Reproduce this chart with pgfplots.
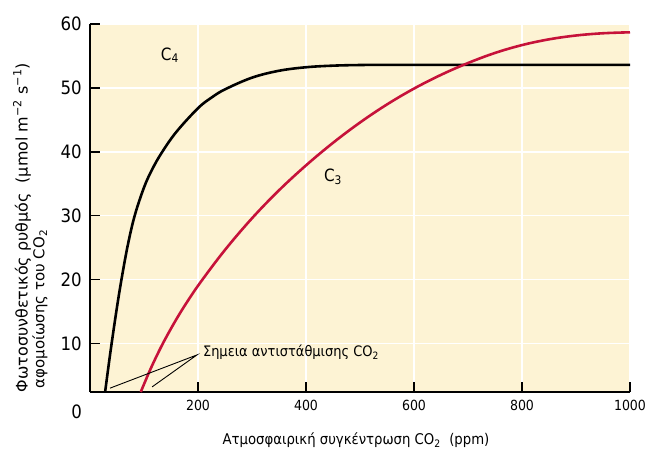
\documentclass[border=0pt]{standalone}
\usepackage{fontspec}
\setmainfont{DejaVu Sans Condensed}
\newfontfamily\widefont{DejaVu Sans}
\usepackage{pgfplots}
\pgfplotsset{compat=1.18}
\definecolor{cream}{RGB}{253,243,212}
\definecolor{cthree}{RGB}{198,18,58}
\begin{document}
\begin{tikzpicture}
\useasboundingbox (-90bp,-58bp) rectangle (555bp,392bp);
\begin{axis}[
 at={(0,0)}, anchor=south west,
 scale only axis, width=540bp, height=368bp,
 xmin=0, xmax=1000, ymin=2.4, ymax=60,
 axis x line=bottom, axis y line=left,
 axis line style={-, line width=1.5pt},
 axis background/.style={fill=cream},
 xtick={200,400,...,1000}, ytick={10,20,...,60},
 grid=major, major grid style={white, line width=1.5pt},
 tick align=inside, major tick length=10bp,
 tick style={black, line width=1.5pt},
 /pgf/number format/assume math mode=true,
 /pgf/number format/1000 sep={},
 xticklabel style={font=\fontsize{14}{17}\selectfont, inner sep=0pt, yshift=-8bp},
 yticklabel style={font=\fontsize{18.5}{22}\selectfont, inner sep=0pt, xshift=-8bp},
 clip=false,
]
\addplot[black, line width=2.6pt, smooth, tension=0.6] coordinates {
(28,2.4) (34,6.27) (40,9.96) (49,15.14) (58,19.87) (70,25.39) (83,30.07)
(100,34.41) (115,37.22) (133,39.88) (160,43.12) (200,46.82) (225,48.48)
(250,49.77) (300,51.6) (350,52.68) (400,53.23) (450,53.48) (500,53.58)
(550,53.6) (700,53.6) (1000,53.6)
};
\addplot[cthree, line width=2.6pt, smooth, tension=0.6] coordinates {
(94,2.4) (110,5.6) (125,8.32) (140,10.8) (160,13.8) (180,16.52) (205,19.62)
(250,24.64) (300,29.59) (350,33.97) (400,37.87) (450,41.4) (500,44.58)
(550,47.41) (600,49.89) (650,52.04) (700,53.89) (750,55.47) (800,56.7)
(850,57.6) (900,58.2) (950,58.55) (1000,58.7)
};
\draw[line width=0.9pt] (axis cs:37,3.0) -- (axis cs:198,8.2) -- (axis cs:115,3.2);
\node[anchor=west, inner sep=0pt, font=\fontsize{14.5}{16}\selectfont] at (axis cs:209,8.6) {Σημεια αντιστάθμισης CO\textsubscript{2}};
\node[font=\fontsize{17}{20}\selectfont] at (axis cs:148,55.1) {C\textsubscript{4}};
\node[font=\fontsize{17}{20}\selectfont] at (axis cs:450,36.1) {C\textsubscript{3}};
\node[anchor=east, inner sep=0pt, xshift=-8bp, font=\fontsize{18.5}{22}\selectfont] at (axis cs:0,-0.75) {0};
\node[font=\fontsize{14.8}{16}\selectfont] at (axis cs:492.6,-5.14) {Ατμοσφαιρική συγκέντρωση CO\textsubscript{2}\ \ (ppm)};
\node[rotate=90, anchor=west, inner sep=0pt, font=\widefont\fontsize{16}{18}\selectfont] at (axis cs:-126,2.35) {Φωτοσυνθετικός ρυθμός\ \ (μmol m\textsuperscript{−2} s\textsuperscript{−1})};
\node[rotate=90, font=\widefont\fontsize{15}{18}\selectfont] at (axis cs:-92.6,15.4) {αφομοίωσης του CO\textsubscript{2}};
\end{axis}
\end{tikzpicture}
\end{document}
